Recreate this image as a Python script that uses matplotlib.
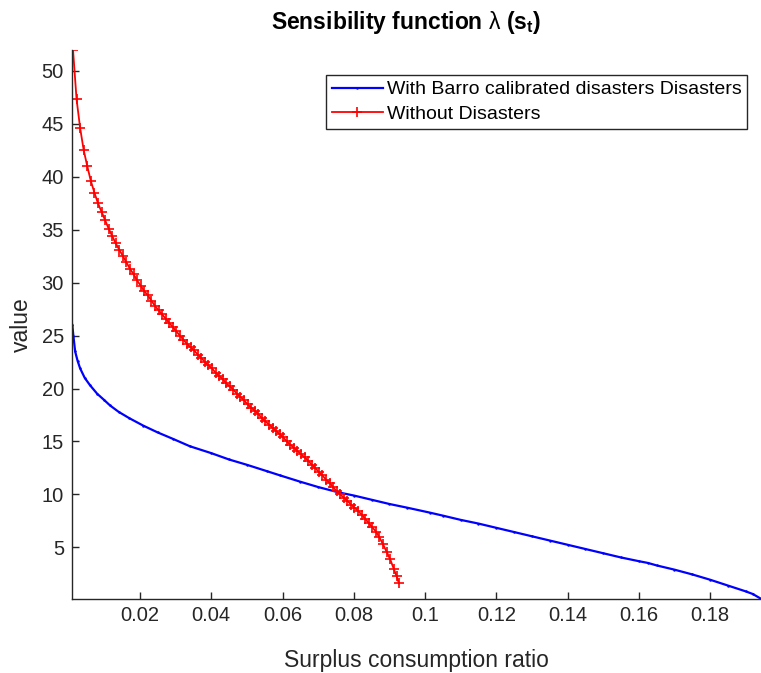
import numpy as np
import matplotlib
matplotlib.use("Agg")
import matplotlib.pyplot as plt
from matplotlib.ticker import FixedLocator, FuncFormatter

############################################################################################################
# data
############################################################################################################

# "With Barro calibrated disasters Disasters"
barro_s = [0.0010, 0.0013, 0.0018, 0.0025, 0.0032, 0.0045, 0.0060, 0.0080, 0.0100, 0.0116,
           0.0140, 0.0170, 0.0209, 0.0250, 0.0293, 0.0340, 0.0400, 0.0450, 0.0500, 0.0556,
           0.0593, 0.0650, 0.0700, 0.0757, 0.0800, 0.0850, 0.0900, 0.0950, 0.1014, 0.1050,
           0.1100, 0.1150, 0.1200, 0.1250, 0.1300, 0.1350, 0.1400, 0.1450, 0.1500, 0.1550,
           0.1600, 0.1626, 0.1650, 0.1700, 0.1750, 0.1800, 0.1850, 0.1900, 0.1920, 0.1943]
barro_lambda = [26.0, 25.0, 23.5, 22.6, 21.9, 21.0, 20.3, 19.5, 18.9, 18.4,
                17.8, 17.2, 16.5, 15.85, 15.24, 14.55, 13.9, 13.3, 12.8, 12.2,
                11.8, 11.2, 10.7, 10.2, 9.9, 9.5, 9.1, 8.75, 8.28, 8.0,
                7.6, 7.25, 6.85, 6.45, 6.05, 5.65, 5.25, 4.85, 4.45, 4.05,
                3.7, 3.53, 3.3, 2.9, 2.45, 1.95, 1.4, 0.85, 0.6, 0.15]

# "Without Disasters"
nodis_s = [0.0012, 0.0022, 0.0032, 0.0042, 0.0052, 0.0062, 0.0072, 0.0082, 0.0092, 0.0102,
           0.0112, 0.0122, 0.0132, 0.0142, 0.0152, 0.0162, 0.0172, 0.0182, 0.0192, 0.0202,
           0.0212, 0.0222, 0.0232, 0.0242, 0.0252, 0.0262, 0.0272, 0.0282, 0.0292, 0.0302,
           0.0312, 0.0322, 0.0332, 0.0342, 0.0352, 0.0362, 0.0372, 0.0382, 0.0392, 0.0402,
           0.0412, 0.0422, 0.0432, 0.0442, 0.0452, 0.0462, 0.0472, 0.0482, 0.0492, 0.0502,
           0.0512, 0.0522, 0.0532, 0.0542, 0.0552, 0.0562, 0.0572, 0.0582, 0.0592, 0.0602,
           0.0612, 0.0622, 0.0632, 0.0642, 0.0652, 0.0662, 0.0672, 0.0682, 0.0692, 0.0702,
           0.0712, 0.0722, 0.0732, 0.0742, 0.0752, 0.0762, 0.0772, 0.0782, 0.0792, 0.0802,
           0.0812, 0.0822, 0.0832, 0.0842, 0.0852, 0.0862, 0.0872, 0.0882, 0.0892, 0.0902,
           0.0912, 0.0920, 0.0927]
nodis_lambda = [52.0, 47.3, 44.6, 42.5, 41.0, 39.6, 38.5, 37.5, 36.7, 35.9,
                35.1, 34.4, 33.7, 33.1, 32.5, 31.9, 31.3, 30.8, 30.2, 29.7,
                29.2, 28.8, 28.3, 27.8, 27.4, 27.0, 26.6, 26.2, 25.8, 25.4,
                25.0, 24.6, 24.2, 23.9, 23.6, 23.2, 22.9, 22.5, 22.2, 21.9,
                21.5, 21.2, 20.9, 20.5, 20.2, 19.9, 19.5, 19.2, 18.9, 18.5,
                18.2, 17.9, 17.6, 17.2, 16.9, 16.6, 16.3, 16.0, 15.7, 15.4,
                15.0, 14.7, 14.4, 14.1, 13.8, 13.5, 13.2, 12.8, 12.5, 12.1,
                11.8, 11.4, 11.1, 10.7, 10.3, 10.0, 9.7, 9.4, 9.05, 8.75,
                8.45, 8.1, 7.7, 7.3, 6.9, 6.5, 5.95, 5.3, 4.6, 3.9,
                3.0, 2.3, 1.6]

x_ticks = [0.02, 0.04, 0.06, 0.08, 0.1, 0.12, 0.14, 0.16, 0.18]
y_ticks = [5, 10, 15, 20, 25, 30, 35, 40, 45, 50]

############################################################################################################

plt.rcParams['font.family'] = ['Liberation Sans', 'DejaVu Sans']
plt.rcParams['mathtext.fontset'] = 'custom'
plt.rcParams['mathtext.rm'] = 'Liberation Sans'
plt.rcParams['mathtext.it'] = 'Liberation Sans'
plt.rcParams['mathtext.bf'] = 'Liberation Sans:bold'

dark = '#262626'

fig = plt.figure(figsize=(7.61, 6.73), dpi=100, facecolor='w')
ax = fig.add_axes([0.095, 0.1095, 0.905, 0.8168])

ax.plot(barro_s, barro_lambda, color='#0000ff', lw=1.6, marker='.', markersize=1.5,
        label='With Barro calibrated disasters Disasters')
ax.plot(nodis_s, nodis_lambda, color='#ff0000', lw=1.3, marker='+', markersize=7,
        markeredgewidth=1.2, label='Without Disasters')

ax.set_xlim(0.0010, 0.1943)
ax.set_ylim(0.1, 52.0)
ax.xaxis.set_major_locator(FixedLocator(x_ticks))
ax.yaxis.set_major_locator(FixedLocator(y_ticks))
ax.xaxis.set_major_formatter(FuncFormatter(lambda v, p: '%g' % v))

for side in ['top', 'right']:
    ax.spines[side].set_visible(False)
for side in ['left', 'bottom']:
    ax.spines[side].set_color(dark)
    ax.spines[side].set_linewidth(1.0)

ax.tick_params(direction='in', length=5, width=1.0, colors=dark, labelsize=14.5)
ax.tick_params(axis='x', pad=5)
ax.tick_params(axis='y', pad=6)

ax.set_xlabel('Surplus consumption ratio', fontsize=16.5, color=dark, labelpad=17)
ax.set_ylabel('value', fontsize=16.5, color=dark, labelpad=6)
ax.set_title(r'Sensibility function $\lambda$ (s$_\mathbf{t}$)', fontsize=16.5, fontweight='bold',
             color='k', pad=15, x=0.485)

leg = ax.legend(loc='upper right', bbox_to_anchor=(0.98, 0.954), borderaxespad=0,
                fancybox=False, shadow=False, fontsize=14, handlelength=2.6,
                handletextpad=0.2, labelspacing=0.35, borderpad=0.3, framealpha=1)
leg.get_frame().set_edgecolor(dark)
leg.get_frame().set_linewidth(1.0)

plt.savefig('out.png', dpi=100)
plt.close(fig)
